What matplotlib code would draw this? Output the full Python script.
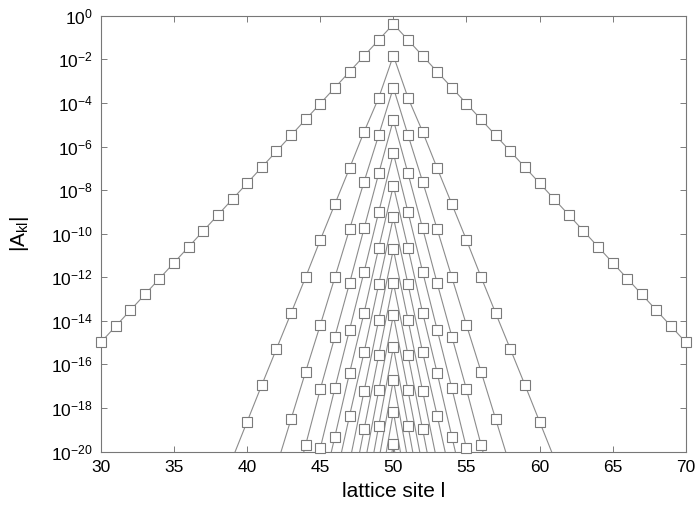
import numpy as np
import matplotlib.pyplot as plt

plt.rcParams['font.family'] = ['Liberation Sans', 'DejaVu Sans']
plt.rcParams['mathtext.fontset'] = 'custom'
plt.rcParams['mathtext.rm'] = 'Liberation Sans'
plt.rcParams['mathtext.it'] = 'Liberation Sans'
plt.rcParams['mathtext.default'] = 'regular'

center_site = 50

# log10 |A_kl|, from the centre site (l=50) outwards.
# the profiles are symmetric around l=50
k1 = [-0.38, -1.11, -1.84, -2.57, -3.30, -4.03, -4.76, -5.49, -6.22, -6.95, -7.68,
      -8.41, -9.14, -9.87, -10.60, -11.33, -12.06, -12.79, -13.52, -14.25, -14.98]
k2 = [-1.83, -3.76, -5.32, -7.00, -8.64, -10.29, -11.99, -13.65, -15.29, -16.94, -18.62, -20.30]
k3 = [-3.30, -5.47, -7.61, -9.80, -12.00, -14.19, -16.33, -18.51, -20.70]
k4 = [-4.78, -7.23, -9.75, -12.28, -14.72, -17.14, -19.69, -22.20]
k5 = [-6.31, -9.00, -11.74, -14.42, -17.09, -19.84, -22.60]
k6 = [-7.80, -10.65, -13.62, -16.40, -19.31, -22.20]
k7 = [-9.25, -12.31, -15.43, -18.36, -21.40]
k8 = [-10.72, -13.95, -17.21, -20.50]
k9 = [-12.25, -15.56, -18.97, -22.40]
k10 = [-13.73, -17.19, -20.70]
k11 = [-15.21, -18.81, -22.50]
k12 = [-16.71, -20.40]
k13 = [-18.17, -22.00]
k14 = [-19.65, -23.60]

profiles = [k1, k2, k3, k4, k5, k6, k7, k8, k9, k10, k11, k12, k13, k14]

fig, ax = plt.subplots(figsize=(6.99, 5.08), dpi=100)
fig.subplots_adjust(left=0.1445, right=0.981, top=0.969, bottom=0.111)

line_col = '#8c8c8c'
for prof in profiles:
    half = np.array(prof)
    n = len(half)
    sites = np.arange(center_site - n + 1, center_site + n)
    logs = np.concatenate([half[::-1], half[1:]])
    vals = 10.0 ** logs
    ax.plot(sites, vals, '-', color=line_col, lw=0.8, zorder=2)
    # markers only where the point lies inside the frame, not clipped at the edges
    inside = logs >= -20.05
    ax.plot(sites[inside], vals[inside], 's', ms=6.5, mfc='white', mec='#7a7a7a',
            mew=0.8, clip_on=False, zorder=3)

ax.set_yscale('log')
ax.set_xlim(30, 70)
ax.set_ylim(1e-20, 1e0)
ax.set_xticks(np.arange(30, 71, 5))
ax.set_yticks(10.0 ** np.arange(-20, 1, 2))
ax.yaxis.set_minor_locator(plt.NullLocator())
ax.tick_params(direction='in', top=True, right=True, length=4, width=0.6,
               color='#666666', labelsize=12.5, pad=6)
for sp in ax.spines.values():
    sp.set_color('#777777')
    sp.set_linewidth(0.8)

ax.set_xlabel('lattice site l', fontsize=15, labelpad=5)
ax.set_ylabel('|A$_{kl}$|', fontsize=15, labelpad=14)

fig.savefig('out.png', dpi=100)
